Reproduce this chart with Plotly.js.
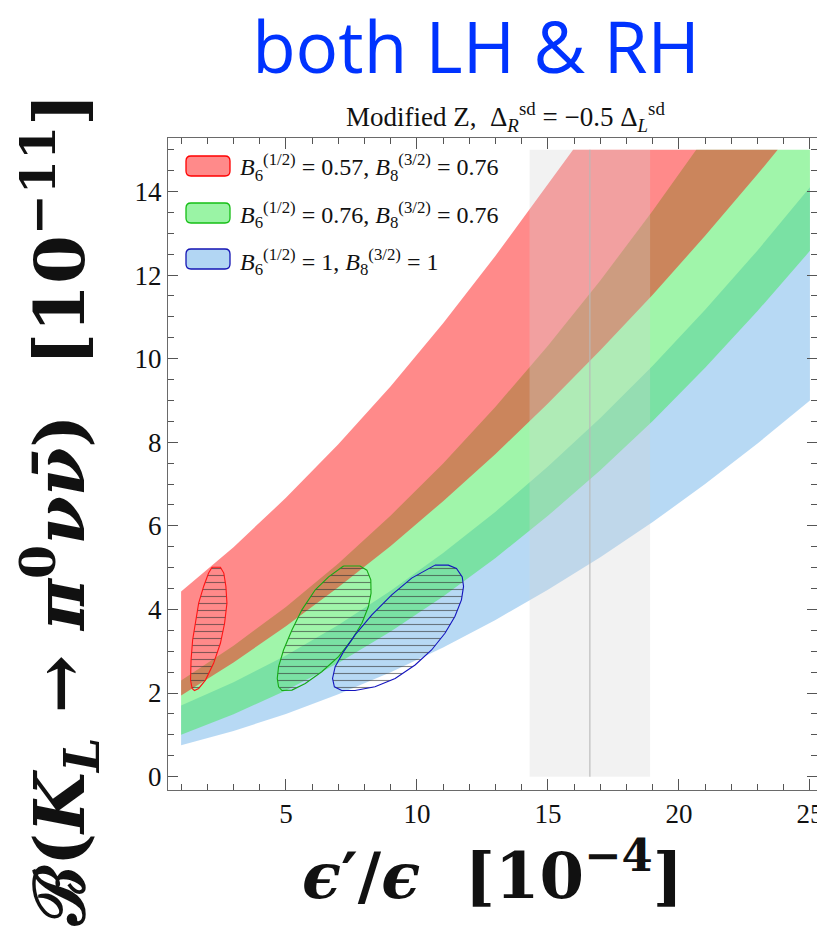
<!DOCTYPE html>
<html>
<head>
<meta charset="utf-8">
<script src="https://cdn.plot.ly/plotly-3.0.1.min.js"></script>
<style>html,body{margin:0;padding:0;background:#fff;}</style>
</head>
<body>
<div id="chart" style="width:817px;height:935px;"></div>
<script>
// ---- data ----
const xGrid = [1, 3, 5, 7, 9, 11, 13, 15, 17, 19, 21, 23, 25];

// B6=0.57, B8=0.76 (red band) — clipped at the top of the plotted range (15)
const redUpperX = [1, 3, 5, 7, 9, 11, 13, 15, 15.96, 25];
const redUpperY = [4.43, 5.49, 6.67, 7.95, 9.34, 10.85, 12.46, 14.19, 15, 15];
const redLowerX = [1, 3, 5, 7, 9, 11, 13, 15, 17, 19, 21, 23, 23.77, 25];
const redLowerY = [1.94, 2.73, 3.60, 4.53, 5.52, 6.59, 7.72, 8.93, 10.20, 11.53, 12.94, 14.41, 15, 15];

// B6=0.76, B8=0.76 (green band)
const greenUpperX = [1, 3, 5, 7, 9, 11, 13, 15, 17, 19, 20.66, 25];
const greenUpperY = [2.30, 3.13, 4.06, 5.10, 6.25, 7.49, 8.85, 10.31, 11.87, 13.54, 15, 15];
const greenLowerY = [1.00, 1.49, 2.06, 2.72, 3.47, 4.31, 5.23, 6.24, 7.33, 8.51, 9.78, 11.14, 12.58];

// B6=1, B8=1 (blue band)
const blueUpperY = [1.70, 2.26, 2.90, 3.63, 4.45, 5.35, 6.34, 7.42, 8.58, 9.83, 11.17, 12.59, 14.10];
const blueLowerY = [0.75, 1.09, 1.50, 1.97, 2.50, 3.09, 3.75, 4.47, 5.25, 6.09, 7.00, 7.97, 9.00];

// experimental eps'/eps band and central value
const expRange = [14.3, 18.9];
const expCentral = 16.6;
const expYRange = [0, 15];

// hatched regions (outlines)
const redEllX = [2.18, 2.50, 2.63, 2.71, 2.75, 2.66, 2.50, 2.24, 1.93, 1.67, 1.51, 1.42, 1.36, 1.38, 1.44, 1.55, 1.67, 1.86, 2.05, 2.18];
const redEllY = [5.01, 5.01, 4.87, 4.55, 4.15, 3.67, 3.19, 2.71, 2.31, 2.11, 2.06, 2.11, 2.31, 2.79, 3.27, 3.67, 4.15, 4.55, 4.87, 5.01];
const greenEllX = [7.20, 7.83, 8.09, 8.24, 8.25, 8.15, 7.90, 7.51, 7.01, 6.37, 5.74, 5.23, 4.85, 4.72, 4.67, 4.72, 4.91, 5.23, 5.61, 6.12, 6.63, 7.20];
const greenEllY = [5.04, 5.04, 4.94, 4.71, 4.39, 4.07, 3.67, 3.27, 2.87, 2.51, 2.23, 2.07, 2.06, 2.15, 2.35, 2.63, 3.03, 3.51, 3.99, 4.47, 4.78, 5.04];
const blueEllX = [10.69, 11.20, 11.51, 11.73, 11.78, 11.70, 11.45, 11.07, 10.56, 9.93, 9.17, 8.40, 7.64, 7.13, 6.85, 6.78, 6.88, 7.20, 7.64, 8.28, 9.04, 9.80, 10.69];
const blueEllY = [5.06, 5.06, 4.98, 4.78, 4.55, 4.23, 3.83, 3.43, 3.03, 2.67, 2.35, 2.15, 2.06, 2.06, 2.15, 2.35, 2.63, 2.99, 3.39, 3.87, 4.35, 4.75, 5.06];

const legendNames = [
  '<i>B</i><sub>6</sub><sup>(1/2)</sup> = 0.57, <i>B</i><sub>8</sub><sup>(3/2)</sup> = 0.76',
  '<i>B</i><sub>6</sub><sup>(1/2)</sup> = 0.76, <i>B</i><sub>8</sub><sup>(3/2)</sup> = 0.76',
  '<i>B</i><sub>6</sub><sup>(1/2)</sup> = 1, <i>B</i><sub>8</sub><sup>(3/2)</sup> = 1'
];
const legendFills = ['rgba(255,0,0,0.46)', 'rgba(54,234,75,0.5)', 'rgba(0,120,215,0.3)'];
const legendBorders = ['rgb(255,0,0)', 'rgb(20,190,20)', 'rgb(20,20,180)'];

// ---- build ----
function band(ux, uy, lx, ly, color, name) {
  return {
    x: ux.concat(lx.slice().reverse()),
    y: uy.concat(ly.slice().reverse()),
    type: 'scatter', mode: 'lines', fill: 'toself',
    fillcolor: color, line: {width: 0}, hoverinfo: 'skip',
    showlegend: false, name: name
  };
}
function hatch(ex, ey, lineColor) {
  return {
    x: ex, y: ey, type: 'scatter', mode: 'lines', fill: 'toself',
    fillcolor: 'rgba(0,0,0,0)',
    fillpattern: {shape: '-', size: 7, solidity: 0.16, fgcolor: 'rgba(50,50,50,0.6)', bgcolor: 'rgba(0,0,0,0)'},
    line: {color: lineColor, width: 1.1}, showlegend: false, hoverinfo: 'skip'
  };
}
function legendEntry(name, grp) {
  // text-only legend item; the rounded swatch is drawn as a shape next to it
  return {
    x: [null], y: [null], type: 'scatter', mode: 'lines',
    line: {color: 'rgba(0,0,0,0)', width: 0}, name: name,
    showlegend: true, legendgroup: grp
  };
}

const blueFill = 'rgba(0,120,215,0.282)';
const greenFill = 'rgba(54,234,75,0.472)';
const redFill = 'rgba(255,0,0,0.46)';

const traces = [
  band(xGrid, blueUpperY, xGrid, blueLowerY, blueFill, 'blue'),
  band(greenUpperX, greenUpperY, xGrid, greenLowerY, greenFill, 'green'),
  band(redUpperX, redUpperY, redLowerX, redLowerY, redFill, 'red'),
  {
    x: [expRange[0], expRange[1], expRange[1], expRange[0], expRange[0]],
    y: [expYRange[0], expYRange[0], expYRange[1], expYRange[1], expYRange[0]],
    type: 'scatter', mode: 'lines', fill: 'toself',
    fillcolor: 'rgba(212,212,212,0.3)', line: {width: 0}, showlegend: false, hoverinfo: 'skip'
  },
  {
    x: [expCentral, expCentral], y: expYRange, type: 'scatter', mode: 'lines',
    line: {color: 'rgba(185,185,185,0.7)', width: 1.6}, showlegend: false, hoverinfo: 'skip'
  },
  hatch(redEllX, redEllY, 'rgb(255,20,20)'),
  hatch(greenEllX, greenEllY, 'rgb(20,170,20)'),
  hatch(blueEllX, blueEllY, 'rgb(20,20,190)'),
  legendEntry(legendNames[0], 'a'),
  legendEntry(legendNames[1], 'b'),
  legendEntry(legendNames[2], 'c')
];

// rounded legend swatches (paper coordinates)
const plotL = 168, plotR = 817, plotT = 138, plotB = 790;
function px2paperX(p) { return (p - plotL) / (plotR - plotL); }
function px2paperY(p) { return (plotB - p) / (plotB - plotT); }
function roundRect(x0, y0, x1, y1, r) {
  const X0 = px2paperX(x0), X1 = px2paperX(x1), Y0 = px2paperY(y0), Y1 = px2paperY(y1);
  const rx = r / (plotR - plotL), ry = r / (plotB - plotT);
  return 'M' + (X0 + rx) + ',' + Y0 + ' L' + (X1 - rx) + ',' + Y0 +
    ' Q' + X1 + ',' + Y0 + ' ' + X1 + ',' + (Y0 - ry) +
    ' L' + X1 + ',' + (Y1 + ry) + ' Q' + X1 + ',' + Y1 + ' ' + (X1 - rx) + ',' + Y1 +
    ' L' + (X0 + rx) + ',' + Y1 + ' Q' + X0 + ',' + Y1 + ' ' + X0 + ',' + (Y1 + ry) +
    ' L' + X0 + ',' + (Y0 - ry) + ' Q' + X0 + ',' + Y0 + ' ' + (X0 + rx) + ',' + Y0 + ' Z';
}
const swatchTops = [156, 203, 249];
const shapes = swatchTops.map((t, i) => ({
  type: 'path', xref: 'paper', yref: 'paper', layer: 'above',
  path: roundRect(186, t, 230, t + 20, 5),
  fillcolor: legendFills[i], line: {color: legendBorders[i], width: 1.3}
}));

const axisCommon = {
  showgrid: false, zeroline: false, showline: true, linecolor: '#6a6a6a', linewidth: 1,
  mirror: 'allticks', ticks: 'inside', tickcolor: '#555', tickwidth: 1,
  tickfont: {family: 'Liberation Serif', size: 27, color: '#111'}
};

const layout = {
  width: 817, height: 935,
  margin: {l: plotL, r: 0, t: plotT, b: 935 - plotB},
  paper_bgcolor: '#fff', plot_bgcolor: '#fff',
  title: {
    text: 'both LH &amp; RH',
    font: {family: 'Open Sans', size: 71, color: 'rgb(0,51,255)'},
    xref: 'container', x: 476 / 817, xanchor: 'center',
    yref: 'container', y: 1 - 48 / 935, yanchor: 'middle'
  },
  xaxis: Object.assign({}, axisCommon, {
    range: [0.5, 25.27], tick0: 0, dtick: 5, ticklen: 11, ticklabeloverflow: 'allow',
    minor: {dtick: 1, ticks: 'inside', ticklen: 6, tickcolor: '#555', showgrid: false},
    title: {text: '<b><i>ϵ</i>′/<i>ϵ</i>\u00a0\u00a0[10<sup>−4</sup>]</b>',
            font: {family: 'DejaVu Serif', size: 64, color: '#111'}, standoff: 24}
  }),
  yaxis: Object.assign({}, axisCommon, {
    range: [-0.32, 15.28], tick0: 0, dtick: 2, ticklen: 10,
    minor: {dtick: 0.5, ticks: 'inside', ticklen: 6, tickcolor: '#555', showgrid: false}
  }),
  showlegend: true,
  legend: {
    x: px2paperX(200), y: px2paperY(144), xanchor: 'left', yanchor: 'top',
    bgcolor: 'rgba(0,0,0,0)', borderwidth: 0,
    font: {family: 'Liberation Serif', size: 24, color: '#111'},
    tracegroupgap: 13, itemwidth: 30, traceorder: 'grouped'
  },
  shapes: shapes,
  annotations: [
    {
      text: 'Modified Z,\u00a0\u00a0Δ<sub><i>R</i></sub><sup>sd</sup> = −0.5 Δ<sub><i>L</i></sub><sup>sd</sup>',
      xref: 'paper', yref: 'paper', x: px2paperX(505), y: px2paperY(117),
      xanchor: 'center', yanchor: 'middle', showarrow: false,
      font: {family: 'Liberation Serif', size: 27, color: '#111'}
    },
    {
      text: '<b>ℬ(<i>K</i><sub><i>L</i></sub> → <i>π</i><sup>0</sup><i>ν</i><i>ν̄</i>)\u00a0\u00a0[10<sup>−11</sup>]</b>',
      xref: 'paper', yref: 'paper', x: px2paperX(60), y: px2paperY(510),
      xanchor: 'center', yanchor: 'middle', textangle: -90, showarrow: false,
      font: {family: 'DejaVu Serif', size: 70, color: '#111'}
    }
  ]
};

Plotly.newPlot('chart', traces, layout, {displayModeBar: false, staticPlot: true});
</script>
</body>
</html>
